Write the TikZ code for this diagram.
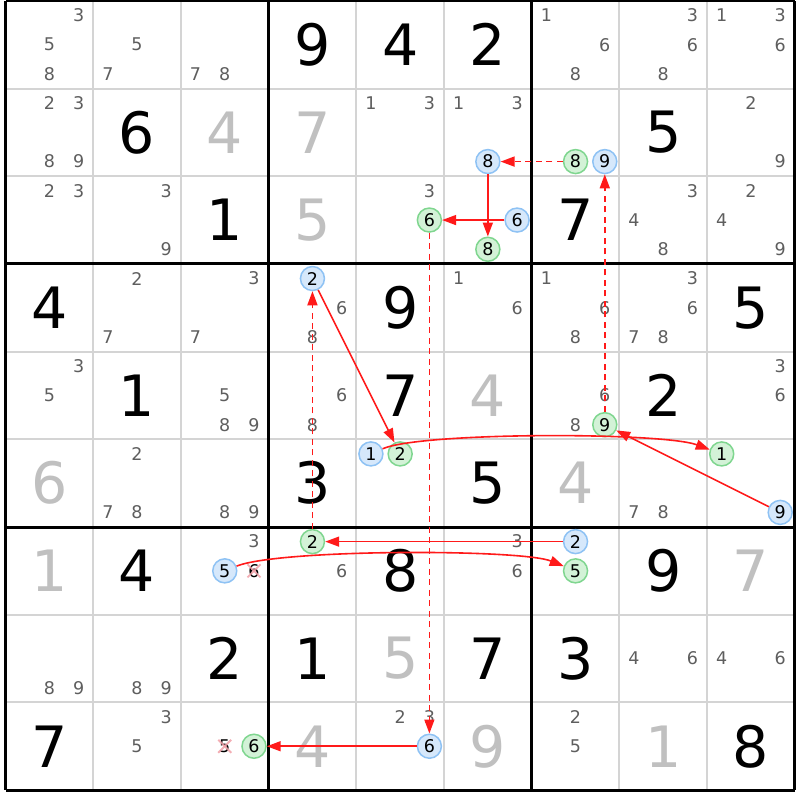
\documentclass[tikz,border=0pt]{standalone}
\usepackage{fontspec}
\setmainfont{DejaVu Sans}
\usetikzlibrary{arrows.meta}
\definecolor{candgray}{HTML}{5E5E5E}
\definecolor{solvedgray}{HTML}{C0C0C0}
\definecolor{gridgray}{HTML}{D4D4D4}
\definecolor{bfill}{HTML}{D6E8FB}
\definecolor{bline}{HTML}{8EC2F4}
\definecolor{gfill}{HTML}{D3F2D7}
\definecolor{gline}{HTML}{7FD68F}
\definecolor{xcol}{HTML}{F2A0A8}
\definecolor{linkred}{HTML}{FF1A1A}
\tikzset{
  cand/.style={inner sep=0pt, text=candgray, font=\fontsize{17.5}{17.5}\selectfont},
  candb/.style={cand, circle, minimum size=24pt, draw=bline, fill=bfill, line width=1.5pt, text=black},
  candg/.style={cand, circle, minimum size=24pt, draw=gline, fill=gfill, line width=1.5pt, text=black},
  candx/.style={cand, text=black},
  given/.style={inner sep=0pt, text=black, font=\fontsize{57}{57}\selectfont},
  solved/.style={given, text=solvedgray},
  linkS/.style={draw=linkred, line width=1.6pt, -{Triangle[length=14pt,width=10pt]}},
  linkW/.style={linkS, dash pattern=on 6pt off 4.5pt},
  xmark/.style={draw=xcol, line width=1.8pt, opacity=0.85},
  thin grid/.style={draw=gridgray, line width=2pt},
  thick grid/.style={draw=black, line width=3pt}
}
\newcommand\sdCand[4][cand]{\node[#1] (n#2#3#4) at ({5.5+(#3-1)*87.7+(mod(#4-1,3)+0.5)*29.2333},{0.8+(#2-1)*87.7+(floor((#4-1)/3)+0.5)*29.2333}) {#4};}
\newcommand\sdCands[3]{\foreach \d in {#3}{\sdCand{#1}{#2}{\d}}}
\newcommand\sdGiv[4][given]{\node[#1] (g#2#3) at ({5.5+(#3-0.5)*87.7},{0.8+(#2-0.5)*87.7}) {#4};}
\begin{document}
\begin{tikzpicture}[x=1pt,y=-1pt]
\useasboundingbox (0,0) rectangle (800,800);
\fill[white] (0,0) rectangle (800,800);
% grid
\foreach \i in {1,2,4,5,7,8}{
  \draw[thin grid] ({5.5+\i*87.7},0.8) -- ({5.5+\i*87.7},{0.8+9*87.7});
  \draw[thin grid] (5.5,{0.8+\i*87.7}) -- ({5.5+9*87.7},{0.8+\i*87.7});
}
\foreach \i in {0,3,6,9}{
  \draw[thick grid] ({5.5+\i*87.7},0.8) -- ({5.5+\i*87.7},{0.8+9*87.7});
  \draw[thick grid] (5.5,{0.8+\i*87.7}) -- ({5.5+9*87.7},{0.8+\i*87.7});
}
% givens
\sdGiv{1}{4}{9}\sdGiv{1}{5}{4}\sdGiv{1}{6}{2}
\sdGiv{2}{2}{6}\sdGiv{2}{8}{5}
\sdGiv{3}{3}{1}\sdGiv{3}{7}{7}
\sdGiv{4}{1}{4}\sdGiv{4}{5}{9}\sdGiv{4}{9}{5}
\sdGiv{5}{2}{1}\sdGiv{5}{5}{7}\sdGiv{5}{8}{2}
\sdGiv{6}{4}{3}\sdGiv{6}{6}{5}
\sdGiv{7}{2}{4}\sdGiv{7}{5}{8}\sdGiv{7}{8}{9}
\sdGiv{8}{3}{2}\sdGiv{8}{4}{1}\sdGiv{8}{6}{7}\sdGiv{8}{7}{3}
\sdGiv{9}{1}{7}\sdGiv{9}{9}{8}
% solved
\sdGiv[solved]{2}{3}{4}\sdGiv[solved]{2}{4}{7}
\sdGiv[solved]{3}{4}{5}
\sdGiv[solved]{5}{6}{4}
\sdGiv[solved]{6}{1}{6}\sdGiv[solved]{6}{7}{4}
\sdGiv[solved]{7}{1}{1}\sdGiv[solved]{7}{9}{7}
\sdGiv[solved]{8}{5}{5}
\sdGiv[solved]{9}{4}{4}\sdGiv[solved]{9}{6}{9}\sdGiv[solved]{9}{8}{1}
% candidates
\sdCands{1}{1}{3,5,8}\sdCands{1}{2}{5,7}\sdCands{1}{3}{7,8}
\sdCands{1}{7}{1,6,8}\sdCands{1}{8}{3,6,8}\sdCands{1}{9}{1,3,6}
\sdCands{2}{1}{2,3,8,9}\sdCands{2}{5}{1,3}\sdCands{2}{6}{1,3}
\sdCand[candb]{2}{6}{8}
\sdCand[candg]{2}{7}{8}\sdCand[candb]{2}{7}{9}
\sdCands{2}{9}{2,9}
\sdCands{3}{1}{2,3}\sdCands{3}{2}{3,9}
\sdCand{3}{5}{3}\sdCand[candg]{3}{5}{6}
\sdCand[candb]{3}{6}{6}\sdCand[candg]{3}{6}{8}
\sdCands{3}{8}{3,4,8}\sdCands{3}{9}{2,4,9}
\sdCands{4}{2}{2,7}\sdCands{4}{3}{3,7}
\sdCand[candb]{4}{4}{2}\sdCands{4}{4}{6,8}
\sdCands{4}{6}{1,6}\sdCands{4}{7}{1,6,8}\sdCands{4}{8}{3,6,7,8}
\sdCands{5}{1}{3,5}\sdCands{5}{3}{5,8,9}\sdCands{5}{4}{6,8}
\sdCands{5}{7}{6,8}\sdCand[candg]{5}{7}{9}
\sdCands{5}{9}{3,6}
\sdCands{6}{2}{2,7,8}\sdCands{6}{3}{8,9}
\sdCand[candb]{6}{5}{1}\sdCand[candg]{6}{5}{2}
\sdCands{6}{8}{7,8}
\sdCand[candg]{6}{9}{1}\sdCand[candb]{6}{9}{9}
\sdCand{7}{3}{3}\sdCand[candb]{7}{3}{5}\sdCand[candx]{7}{3}{6}
\sdCand[candg]{7}{4}{2}\sdCand{7}{4}{6}
\sdCands{7}{6}{3,6}
\sdCand[candb]{7}{7}{2}\sdCand[candg]{7}{7}{5}
\sdCands{8}{1}{8,9}\sdCands{8}{2}{8,9}\sdCands{8}{8}{4,6}\sdCands{8}{9}{4,6}
\sdCands{9}{2}{3,5}
\sdCand[candx]{9}{3}{5}\sdCand[candg]{9}{3}{6}
\sdCands{9}{5}{2,3}\sdCand[candb]{9}{5}{6}
\sdCands{9}{7}{2,5}
% links
\draw[linkW] (n278) -- (n268);
\draw[linkS] (n268) -- (n368);
\draw[linkS] (n366) -- (n356);
\draw[linkW] (n356) -- (n956);
\draw[linkS] (n956) -- (n936);
\draw[linkW] (n579) -- (n279);
\draw[linkS] (n699) -- (n579);
\draw[linkS] (n651) .. controls +(50,-22) and +(-60,-22) .. (n691);
\draw[linkS] (n442) -- (n652);
\draw[linkW] (n742) -- (n442);
\draw[linkS] (n772) -- (n742);
\draw[linkS] (n735) .. controls +(55,-22) and +(-55,-22) .. (n775);
% eliminations
\draw[xmark] ([shift={(-6.5,-6.5)}]n736.center) -- ([shift={(6.5,6.5)}]n736.center);
\draw[xmark] ([shift={(-6.5,6.5)}]n736.center) -- ([shift={(6.5,-6.5)}]n736.center);
\draw[xmark] ([shift={(-6.5,-6.5)}]n935.center) -- ([shift={(6.5,6.5)}]n935.center);
\draw[xmark] ([shift={(-6.5,6.5)}]n935.center) -- ([shift={(6.5,-6.5)}]n935.center);
\end{tikzpicture}
\end{document}
